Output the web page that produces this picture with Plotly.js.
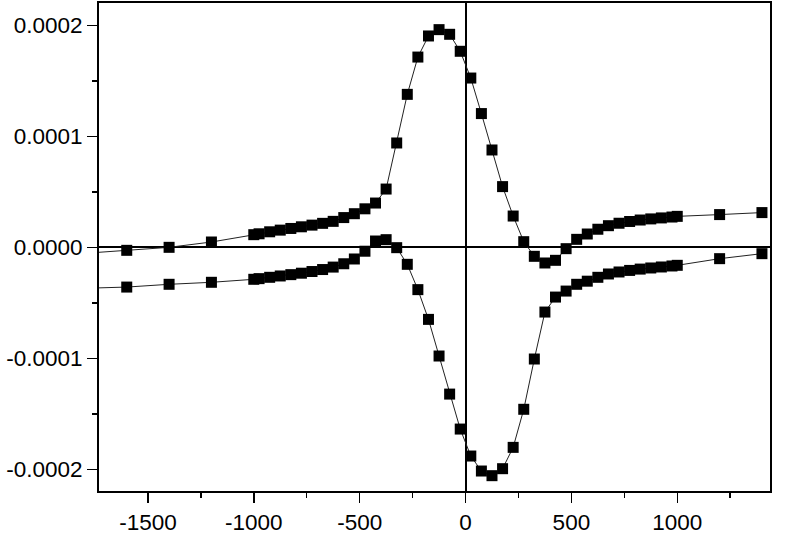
<!DOCTYPE html>
<html>
<head>
<meta charset="utf-8">
<script src="https://cdn.plot.ly/plotly-3.0.1.min.js"></script>
<style>
  body { margin: 0; background: #fff; }
  #myPlot { width: 800px; height: 548px; }
</style>
</head>
<body>
<div id="myPlot"></div>
<script>
var xValues = [-1800, -1600, -1400, -1200, -1000, -975, -925, -875, -825, -775, -725, -675, -625, -575, -525, -475, -425, -375, -325, -275, -225, -175, -125, -75, -25,
  25, 75, 125, 175, 225, 275, 325, 375, 425, 475, 525, 575, 625, 675, 725, 775, 825, 875, 925, 975, 1000, 1200, 1400];

var upperValues = [-5.4e-6, -2.7e-6, 0.0, 4.8e-6, 1.14e-5, 1.22e-5, 1.40e-5, 1.55e-5, 1.70e-5, 1.85e-5, 2.00e-5, 2.16e-5, 2.34e-5, 2.68e-5, 3.03e-5, 3.47e-5, 3.99e-5, 5.25e-5, 9.40e-5, 1.378e-4, 1.714e-4, 1.904e-4, 1.961e-4, 1.919e-4, 1.766e-4,
  1.525e-4, 1.205e-4, 8.77e-5, 5.47e-5, 2.82e-5, 5.1e-6, -8.1e-6, -1.41e-5, -1.17e-5, -1.2e-6, 7.2e-6, 1.20e-5, 1.63e-5, 1.95e-5, 2.17e-5, 2.33e-5, 2.46e-5, 2.56e-5, 2.65e-5, 2.73e-5, 2.79e-5, 2.95e-5, 3.13e-5];

var lowerValues = [-3.69e-5, -3.58e-5, -3.33e-5, -3.15e-5, -2.88e-5, -2.82e-5, -2.70e-5, -2.58e-5, -2.46e-5, -2.33e-5, -2.18e-5, -2.00e-5, -1.78e-5, -1.48e-5, -1.05e-5, -3.5e-6, 5.7e-6, 6.9e-6, -3e-7, -1.53e-5, -3.81e-5, -6.49e-5, -9.79e-5, -1.322e-4, -1.637e-4,
  -1.880e-4, -2.015e-4, -2.057e-4, -1.994e-4, -1.802e-4, -1.459e-4, -1.006e-4, -5.83e-5, -4.48e-5, -3.94e-5, -3.33e-5, -3.05e-5, -2.70e-5, -2.40e-5, -2.22e-5, -2.08e-5, -1.96e-5, -1.86e-5, -1.77e-5, -1.68e-5, -1.62e-5, -1.02e-5, -5.7e-6];

var xTickVals = [-1500, -1000, -500, 0, 500, 1000];
var xTickLabels = ["-1500", "-1000", "-500", "0", "500", "1000"];
var yTickVals = [-0.0002, -0.0001, 0, 0.0001, 0.0002];
var yTickLabels = ["-0.0002", "-0.0001", "0.0000", "0.0001", "0.0002"];

var markerStyle = { symbol: "square", size: 11, color: "#000" };
var lineStyle = { color: "#222", width: 1 };

var data = [{
  x: xValues,
  y: upperValues,
  mode: "lines+markers",
  marker: markerStyle,
  line: lineStyle
}, {
  x: xValues,
  y: lowerValues,
  mode: "lines+markers",
  marker: markerStyle,
  line: lineStyle
}];

var axisCommon = {
  showgrid: false,
  zeroline: true,
  zerolinecolor: "#000",
  zerolinewidth: 2,
  showline: true,
  mirror: true,
  linecolor: "#000",
  linewidth: 2,
  ticks: "outside",
  ticklen: 10,
  tickwidth: 1.5,
  tickcolor: "#000",
  tickmode: "array"
};

var layout = {
  width: 800,
  height: 548,
  margin: { l: 99, r: 30, t: 3, b: 57 },
  paper_bgcolor: "#fff",
  plot_bgcolor: "#fff",
  showlegend: false,
  font: { family: "Liberation Sans, Arial, sans-serif", size: 22.5, color: "#000" },
  xaxis: Object.assign({}, axisCommon, {
    range: [-1731, 1438],
    tickvals: xTickVals,
    ticktext: xTickLabels,
    minor: { tickmode: "linear", tick0: 0, dtick: 250, ticks: "outside", ticklen: 5, tickwidth: 1.5, tickcolor: "#000" }
  }),
  yaxis: Object.assign({}, axisCommon, {
    range: [-0.0002195, 0.0002201],
    tickvals: yTickVals,
    ticktext: yTickLabels,
    minor: { tickmode: "linear", tick0: 0, dtick: 0.00005, ticks: "outside", ticklen: 5, tickwidth: 1.5, tickcolor: "#000" }
  })
};

Plotly.newPlot("myPlot", data, layout, { staticPlot: true });
</script>
</body>
</html>
